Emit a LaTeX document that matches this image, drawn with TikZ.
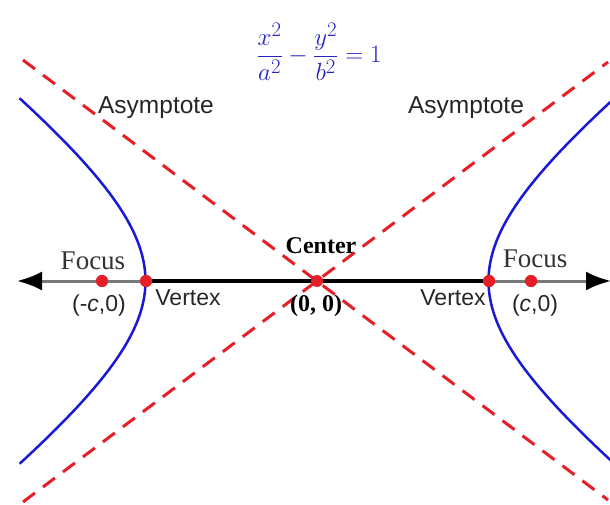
\documentclass[tikz,border=0pt]{standalone}
\usepackage{fontspec}
\setmainfont{Liberation Serif}
\setsansfont{Liberation Sans}
\usepackage{amsmath}
\usetikzlibrary{arrows.meta,positioning}

\definecolor{curveblue}{RGB}{25,25,215}
\definecolor{asred}{RGB}{230,30,40}
\definecolor{eqblue}{RGB}{35,35,195}
\definecolor{axisgray}{RGB}{120,120,120}

\tikzset{
  pt/.style={circle,fill=asred,inner sep=0pt,minimum size=12pt},
  serlbl/.style={anchor=base,font=\fontsize{27}{29}\selectfont,text=black!80},
  sanslbl/.style={anchor=base,font=\sffamily\fontsize{23}{25}\selectfont,text=black!85},
  asymlbl/.style={sanslbl,font=\sffamily\fontsize{24.5}{26}\selectfont},
  boldlbl/.style={anchor=base,font=\bfseries\fontsize{24}{26}\selectfont},
  asym/.style={asred,line width=3pt,dash pattern=on 15pt off 10pt},
  branch/.style={curveblue,line width=2.5pt},
  tip/.style={-{Latex[length=25pt,width=19pt,color=black]}}
}

\begin{document}
\begin{tikzpicture}[x=1pt,y=-1pt]
\useasboundingbox (0,0) rectangle (610,505);
\clip (0,0) rectangle (610,505);

\coordinate (O) at (317,281);

\coordinate (AS1) at (23,60);

\coordinate (AS2) at (608,500);

\coordinate (AS3) at (23,502);

\coordinate (AS4) at (608,62);

\coordinate (A1) at (17,281);

\coordinate (A2) at (611,281);

% asymptotes
\draw[asym] (AS1) -- (AS2);

\draw[asym] (AS3) -- (AS4);

% branches
\draw[branch] plot[domain=-1.148:1.148,samples=60,smooth,variable=\t]
  ({317-171.5*cosh(\t)},{281+129*sinh(\t)});

\draw[branch] plot[domain=-1.16:1.16,samples=60,smooth,variable=\t]
  ({317+171.5*cosh(\t)},{281+129*sinh(\t)});

\node[pt] (V1) at (146,281) {};

\node[pt] (V2) at (489,281) {};

\node[pt] (F1) at (102,281) {};

\node[pt] (F2) at (531,281) {};

% axis
\draw[axisgray,line width=3pt,tip] (V1) -- (A1);

\draw[axisgray,line width=3pt,tip] (V2) -- (A2);

\draw[black,line width=4.5pt] (V1) -- (V2);

\node[pt] (C) at (O) {};

\node[pt] at (V1) {};

\node[pt] at (V2) {};

\node[pt] at (F1) {};

\node[pt] at (F2) {};

% labels
\node[serlbl] (FL1) at (93,269) {Focus};

\node[serlbl] (FL2) at (535,267) {Focus};

\node[sanslbl] (CL1) at (99,311) {(-\textit{c},0)};

\node[sanslbl] (CL2) at (535,311) {(\textit{c},0)};

\node[sanslbl] (VL1) at (188,305) {Vertex};

\node[sanslbl] (VL2) at (453,305) {Vertex};

\node[boldlbl] (CT) at (321,253) {Center};

\node[boldlbl] (CO) at (316,311) {(0, 0)};

\node[asymlbl] (AL1) at (156,114) {Asymptote};

\node[asymlbl] (AL2) at (466,114) {Asymptote};

\node[text=eqblue,font=\fontsize{28}{32}\selectfont] (EQ) at (319,52)
  {$\dfrac{x^2}{a^2}-\dfrac{y^2}{b^2}=1$};

\end{tikzpicture}
\end{document}
